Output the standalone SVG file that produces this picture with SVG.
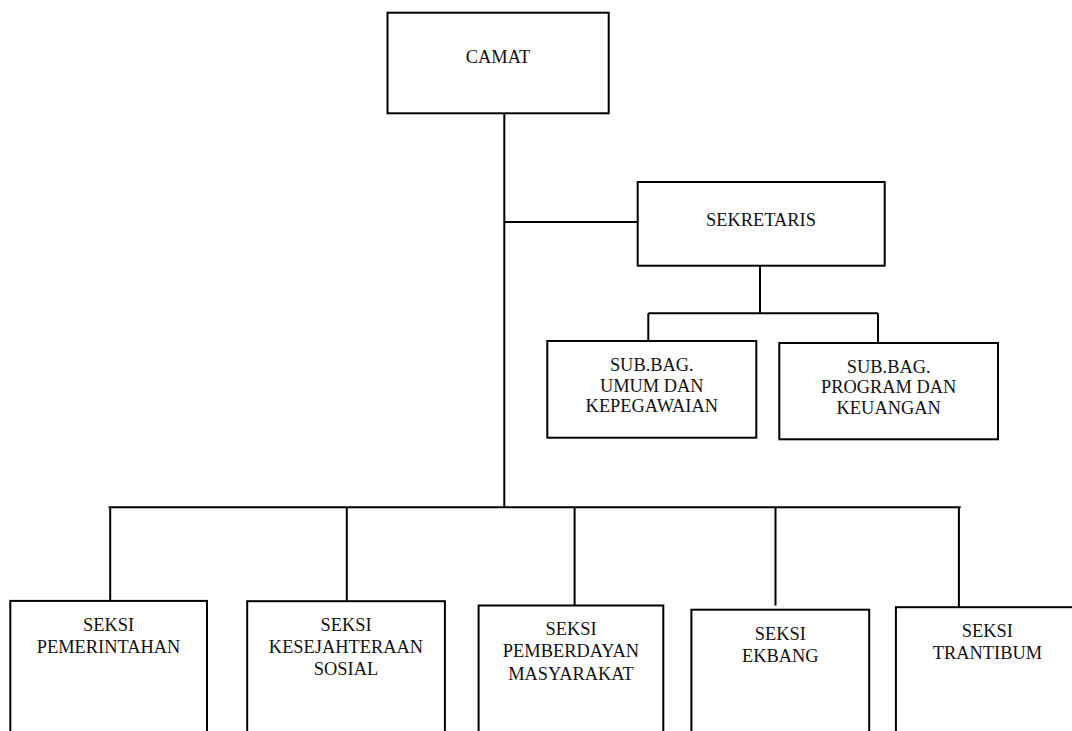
<svg xmlns="http://www.w3.org/2000/svg" width="1072" height="731" viewBox="0 0 1072 731">
<style>
.box{fill:#fff;stroke:#000;stroke-width:2}
.ln{fill:none;stroke:#000;stroke-width:2}
text{font-family:"Liberation Serif","Times New Roman",serif;font-size:18.4px;fill:#111;text-anchor:middle}
</style>
<rect width="1072" height="731" fill="#fff"/>
<g id="connectors">
<line class="ln" x1="504.3" y1="113" x2="504.3" y2="507.5"/>
<line class="ln" x1="504.3" y1="222" x2="637.7" y2="222"/>
<line class="ln" x1="760" y1="266" x2="760" y2="313.3"/>
<line class="ln" x1="648.3" y1="313.3" x2="878" y2="313.3"/>
<line class="ln" x1="648.3" y1="313.3" x2="648.3" y2="342"/>
<line class="ln" x1="878" y1="313.3" x2="878" y2="343"/>
<line class="ln" x1="108.5" y1="507.3" x2="960.7" y2="507.3"/>
<line class="ln" x1="110.2" y1="507.3" x2="110.2" y2="607"/>
<line class="ln" x1="346.8" y1="507.3" x2="346.8" y2="601"/>
<line class="ln" x1="574.6" y1="507.3" x2="574.6" y2="608"/>
<line class="ln" x1="775.5" y1="507.3" x2="775.5" y2="605.5"/>
<line class="ln" x1="958.9" y1="507.3" x2="958.9" y2="607"/>
</g>
<g id="camat">
<rect class="box" x="387.5" y="12.7" width="221.2" height="100.6"/>
<text x="498" y="62.7">CAMAT</text>
</g>
<g id="sekretaris">
<rect class="box" x="637.7" y="182" width="247" height="83.7"/>
<text x="761" y="226">SEKRETARIS</text>
</g>
<g id="subbag-umum">
<rect class="box" x="547.3" y="341" width="209" height="96.7"/>
<text x="651.8" y="370.7">SUB.BAG.</text>
<text x="651.8" y="391.7">UMUM DAN</text>
<text x="651.8" y="411.7">KEPEGAWAIAN</text>
</g>
<g id="subbag-program">
<rect class="box" x="779.3" y="343" width="218.7" height="96.3"/>
<text x="888.7" y="372.7">SUB.BAG.</text>
<text x="888.7" y="393.3">PROGRAM DAN</text>
<text x="888.7" y="414.3">KEUANGAN</text>
</g>
<g id="seksi-pemerintahan">
<rect class="box" x="10.3" y="600.9" width="196.7" height="140"/>
<text x="108.5" y="631.2">SEKSI</text>
<text x="108.5" y="652.5">PEMERINTAHAN</text>
</g>
<g id="seksi-kesejahteraan">
<rect class="box" x="247.2" y="601.2" width="197.7" height="140"/>
<text x="346" y="631.2">SEKSI</text>
<text x="346" y="652.8">KESEJAHTERAAN</text>
<text x="346" y="674.6">SOSIAL</text>
</g>
<g id="seksi-pemberdayan">
<rect class="box" x="478.6" y="605.5" width="184.7" height="140"/>
<text x="571" y="635.4">SEKSI</text>
<text x="571" y="657.2">PEMBERDAYAN</text>
<text x="571" y="680">MASYARAKAT</text>
</g>
<g id="seksi-ekbang">
<rect class="box" x="691.4" y="609.7" width="177.8" height="140"/>
<text x="780.3" y="639.6">SEKSI</text>
<text x="780.3" y="661.8">EKBANG</text>
</g>
<g id="seksi-trantibum">
<rect class="box" x="895.9" y="607.2" width="190" height="140"/>
<text x="987.4" y="637">SEKSI</text>
<text x="987.4" y="659">TRANTIBUM</text>
</g>
</svg>
